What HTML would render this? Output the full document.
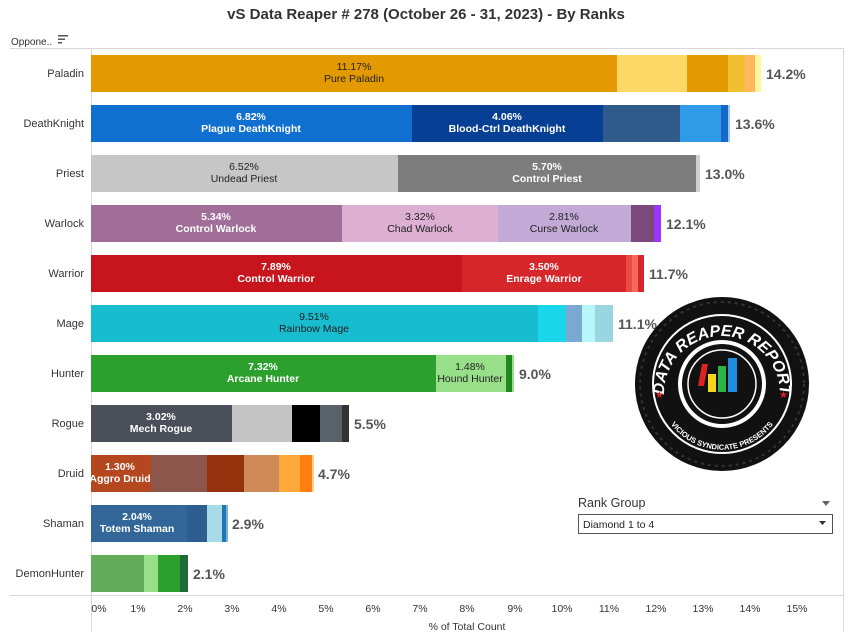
<!DOCTYPE html>
<html><head><meta charset="utf-8"><style>
body{margin:0;background:#fff;}
svg text{font-family:"Liberation Sans",Arial,sans-serif;}
</style></head><body>
<svg width="852" height="639" viewBox="0 0 852 639" xmlns="http://www.w3.org/2000/svg">
<rect width="852" height="639" fill="#fff"/>
<text x="426" y="19" text-anchor="middle" font-size="15" font-weight="bold" fill="#333">vS Data Reaper #  278 (October 26 - 31, 2023) - By Ranks</text>
<text x="11" y="45" font-size="10" fill="#333">Oppone..</text>
<g fill="#555"><rect x="58" y="35" width="10" height="1.5"/><rect x="58" y="38.5" width="7" height="1.5"/><rect x="58" y="42" width="4" height="1.5"/></g>
<line x1="10" y1="48.5" x2="843" y2="48.5" stroke="#d8d8d8"/>
<line x1="843.5" y1="48" x2="843.5" y2="632" stroke="#d8d8d8"/>
<line x1="91.5" y1="48" x2="91.5" y2="632" stroke="#d8d8d8"/>
<line x1="10" y1="595.5" x2="843" y2="595.5" stroke="#d8d8d8"/>
<g font-size="11" fill="#333" text-anchor="end">
<text x="84" y="77">Paladin</text><text x="84" y="127">DeathKnight</text><text x="84" y="177">Priest</text><text x="84" y="227">Warlock</text><text x="84" y="277">Warrior</text><text x="84" y="327">Mage</text><text x="84" y="377">Hunter</text><text x="84" y="427">Rogue</text><text x="84" y="477">Druid</text><text x="84" y="527">Shaman</text><text x="84" y="577">DemonHunter</text>
</g>
<g id="bars">
<rect x="91" y="55" width="526" height="37" fill="#e39a00"/><rect x="617" y="55" width="70" height="37" fill="#fed866"/><rect x="687" y="55" width="41" height="37" fill="#e39a00"/><rect x="728" y="55" width="17" height="37" fill="#f0c030"/><rect x="745" y="55" width="10" height="37" fill="#ffb860"/><rect x="755" y="55" width="6" height="37" fill="#fff59a"/>
<rect x="91" y="105" width="321" height="37" fill="#1070d0"/><rect x="412" y="105" width="191" height="37" fill="#073f94"/><rect x="603" y="105" width="77" height="37" fill="#2e5b8a"/><rect x="680" y="105" width="41" height="37" fill="#2f9be8"/><rect x="721" y="105" width="7" height="37" fill="#1368c8"/><rect x="728" y="105" width="2" height="37" fill="#9cc9f0"/>
<rect x="91" y="155" width="307" height="37" fill="#c6c6c6"/><rect x="398" y="155" width="298" height="37" fill="#7d7d7d"/><rect x="696" y="155" width="4" height="37" fill="#cfcfcf"/>
<rect x="91" y="205" width="251" height="37" fill="#a16e9a"/><rect x="342" y="205" width="156" height="37" fill="#ddb0d3"/><rect x="498" y="205" width="133" height="37" fill="#c2a9d6"/><rect x="631" y="205" width="23" height="37" fill="#7b4a7d"/><rect x="654" y="205" width="7" height="37" fill="#9b36ff"/>
<rect x="91" y="255" width="371" height="37" fill="#c8141c"/><rect x="462" y="255" width="164" height="37" fill="#d7262a"/><rect x="626" y="255" width="6" height="37" fill="#ea4a44"/><rect x="632" y="255" width="6" height="37" fill="#f46a58"/><rect x="638" y="255" width="6" height="37" fill="#d7262a"/>
<rect x="91" y="305" width="447" height="37" fill="#17bcce"/><rect x="538" y="305" width="28" height="37" fill="#1ad6ea"/><rect x="566" y="305" width="16" height="37" fill="#7ba8d0"/><rect x="582" y="305" width="13" height="37" fill="#b8f6fa"/><rect x="595" y="305" width="18" height="37" fill="#9ad6e2"/>
<rect x="91" y="355" width="345" height="37" fill="#2ca02c"/><rect x="436" y="355" width="70" height="37" fill="#98df8a"/><rect x="506" y="355" width="6" height="37" fill="#1e8a1e"/><rect x="512" y="355" width="2" height="37" fill="#98df8a"/>
<rect x="91" y="405" width="141" height="37" fill="#4a4f5a"/><rect x="232" y="405" width="60" height="37" fill="#c4c4c4"/><rect x="292" y="405" width="28" height="37" fill="#000"/><rect x="320" y="405" width="22" height="37" fill="#59616a"/><rect x="342" y="405" width="7" height="37" fill="#333"/>
<rect x="91" y="455" width="60" height="37" fill="#b5471f"/><rect x="151" y="455" width="56" height="37" fill="#8c564b"/><rect x="207" y="455" width="37" height="37" fill="#95310c"/><rect x="244" y="455" width="35" height="37" fill="#d08a58"/><rect x="279" y="455" width="21" height="37" fill="#ffa93a"/><rect x="300" y="455" width="12" height="37" fill="#ff7f0e"/><rect x="312" y="455" width="2" height="37" fill="#ffcf90"/>
<rect x="91" y="505" width="96" height="37" fill="#336699"/><rect x="187" y="505" width="20" height="37" fill="#2e5e90"/><rect x="207" y="505" width="15" height="37" fill="#a7dbe8"/><rect x="222" y="505" width="4" height="37" fill="#1f77b4"/><rect x="226" y="505" width="2" height="37" fill="#7fb0d8"/>
<rect x="91" y="555" width="53" height="37" fill="#63ad5a"/><rect x="144" y="555" width="14" height="37" fill="#98df8a"/><rect x="158" y="555" width="22" height="37" fill="#2ca02c"/><rect x="180" y="555" width="8" height="37" fill="#1f6b37"/>
</g>
<g font-size="10.5" text-anchor="middle">
<g fill="#222"><text x="354" y="70">11.17%</text><text x="354" y="82">Pure Paladin</text></g>
<g fill="#fff" font-weight="bold"><text x="251" y="120">6.82%</text><text x="251" y="132">Plague DeathKnight</text><text x="507" y="120">4.06%</text><text x="507" y="132">Blood-Ctrl DeathKnight</text></g>
<g fill="#222"><text x="244" y="170">6.52%</text><text x="244" y="182">Undead Priest</text></g>
<g fill="#fff" font-weight="bold"><text x="547" y="170">5.70%</text><text x="547" y="182">Control Priest</text></g>
<g fill="#fff" font-weight="bold"><text x="216" y="220">5.34%</text><text x="216" y="232">Control Warlock</text></g>
<g fill="#222"><text x="420" y="220">3.32%</text><text x="420" y="232">Chad Warlock</text><text x="564" y="220">2.81%</text><text x="564" y="232">Curse Warlock</text></g>
<g fill="#fff" font-weight="bold"><text x="276" y="270">7.89%</text><text x="276" y="282">Control Warrior</text><text x="544" y="270">3.50%</text><text x="544" y="282">Enrage Warrior</text></g>
<g fill="#222"><text x="314" y="320">9.51%</text><text x="314" y="332">Rainbow Mage</text></g>
<g fill="#fff" font-weight="bold"><text x="263" y="370">7.32%</text><text x="263" y="382">Arcane Hunter</text></g>
<g fill="#222"><text x="470" y="370">1.48%</text><text x="470" y="382">Hound Hunter</text></g>
<g fill="#fff" font-weight="bold"><text x="161" y="420">3.02%</text><text x="161" y="432">Mech Rogue</text><text x="120" y="470">1.30%</text><text x="120" y="482">Aggro Druid</text><text x="137" y="520">2.04%</text><text x="137" y="532">Totem Shaman</text></g>
</g>
<g font-size="14" font-weight="bold" fill="#555">
<text x="766" y="79">14.2%</text><text x="735" y="129">13.6%</text><text x="705" y="179">13.0%</text><text x="666" y="229">12.1%</text><text x="649" y="279">11.7%</text><text x="618" y="329">11.1%</text><text x="519" y="379">9.0%</text><text x="354" y="429">5.5%</text><text x="318" y="479">4.7%</text><text x="232" y="529">2.9%</text><text x="193" y="579">2.1%</text>
</g>
<g font-size="10.5" fill="#333" text-anchor="middle">
<text x="99" y="612">0%</text><text x="138" y="612">1%</text><text x="185" y="612">2%</text><text x="232" y="612">3%</text><text x="279" y="612">4%</text><text x="326" y="612">5%</text><text x="373" y="612">6%</text><text x="420" y="612">7%</text><text x="467" y="612">8%</text><text x="515" y="612">9%</text><text x="562" y="612">10%</text><text x="609" y="612">11%</text><text x="656" y="612">12%</text><text x="703" y="612">13%</text><text x="750" y="612">14%</text><text x="797" y="612">15%</text>
<text x="467" y="630">% of Total Count</text>
</g>
<g transform="translate(722,384)">
<circle r="87" fill="#111"/>
<circle r="82" fill="none" stroke="#333" stroke-width="2" stroke-dasharray="3 4"/>
<circle r="69" fill="none" stroke="#fff" stroke-width="2"/>
<circle r="44" fill="#fff"/>
<circle r="40" fill="#111"/>
<circle r="34" fill="#111" stroke="#fff" stroke-width="1.5"/>
<rect x="-14" y="-10" width="8" height="18" fill="#f5d41c"/>
<rect x="-4" y="-18" width="8" height="26" fill="#2fb344"/>
<rect x="6" y="-26" width="9" height="34" fill="#1f8ce0"/>
<path d="M-20,-20 l6,0 l-4,22 l-6,0z" fill="#d22"/>
<path id="arc1" d="M-58,10 A58,58 0 1 1 58,10" fill="none"/>
<text font-size="16" font-weight="bold" font-style="italic" fill="#fff"><textPath href="#arc1" startOffset="50%" text-anchor="middle">DATA REAPER REPORT</textPath></text>
<path id="arc2" d="M-60,24 A64,64 0 0 0 60,24" fill="none"/>
<text font-size="7.5" font-weight="bold" fill="#fff"><textPath href="#arc2" startOffset="50%" text-anchor="middle">VICIOUS SYNDICATE PRESENTS</textPath></text>
<text x="-67" y="14" font-size="10" fill="#d22">★</text><text x="57" y="14" font-size="10" fill="#d22">★</text>
</g>
<text x="578" y="507" font-size="12.5" fill="#333">Rank Group</text>
<path d="M822,501 l8,0 l-4,5z" fill="#666"/>
<rect x="578.5" y="514.5" width="254" height="19" fill="#fff" stroke="#555"/>
<text x="583" y="528" font-size="10.5" fill="#222">Diamond 1 to 4</text>
<path d="M819,521 l7,0 l-3.5,4z" fill="#333"/>
</svg>
</body></html>
